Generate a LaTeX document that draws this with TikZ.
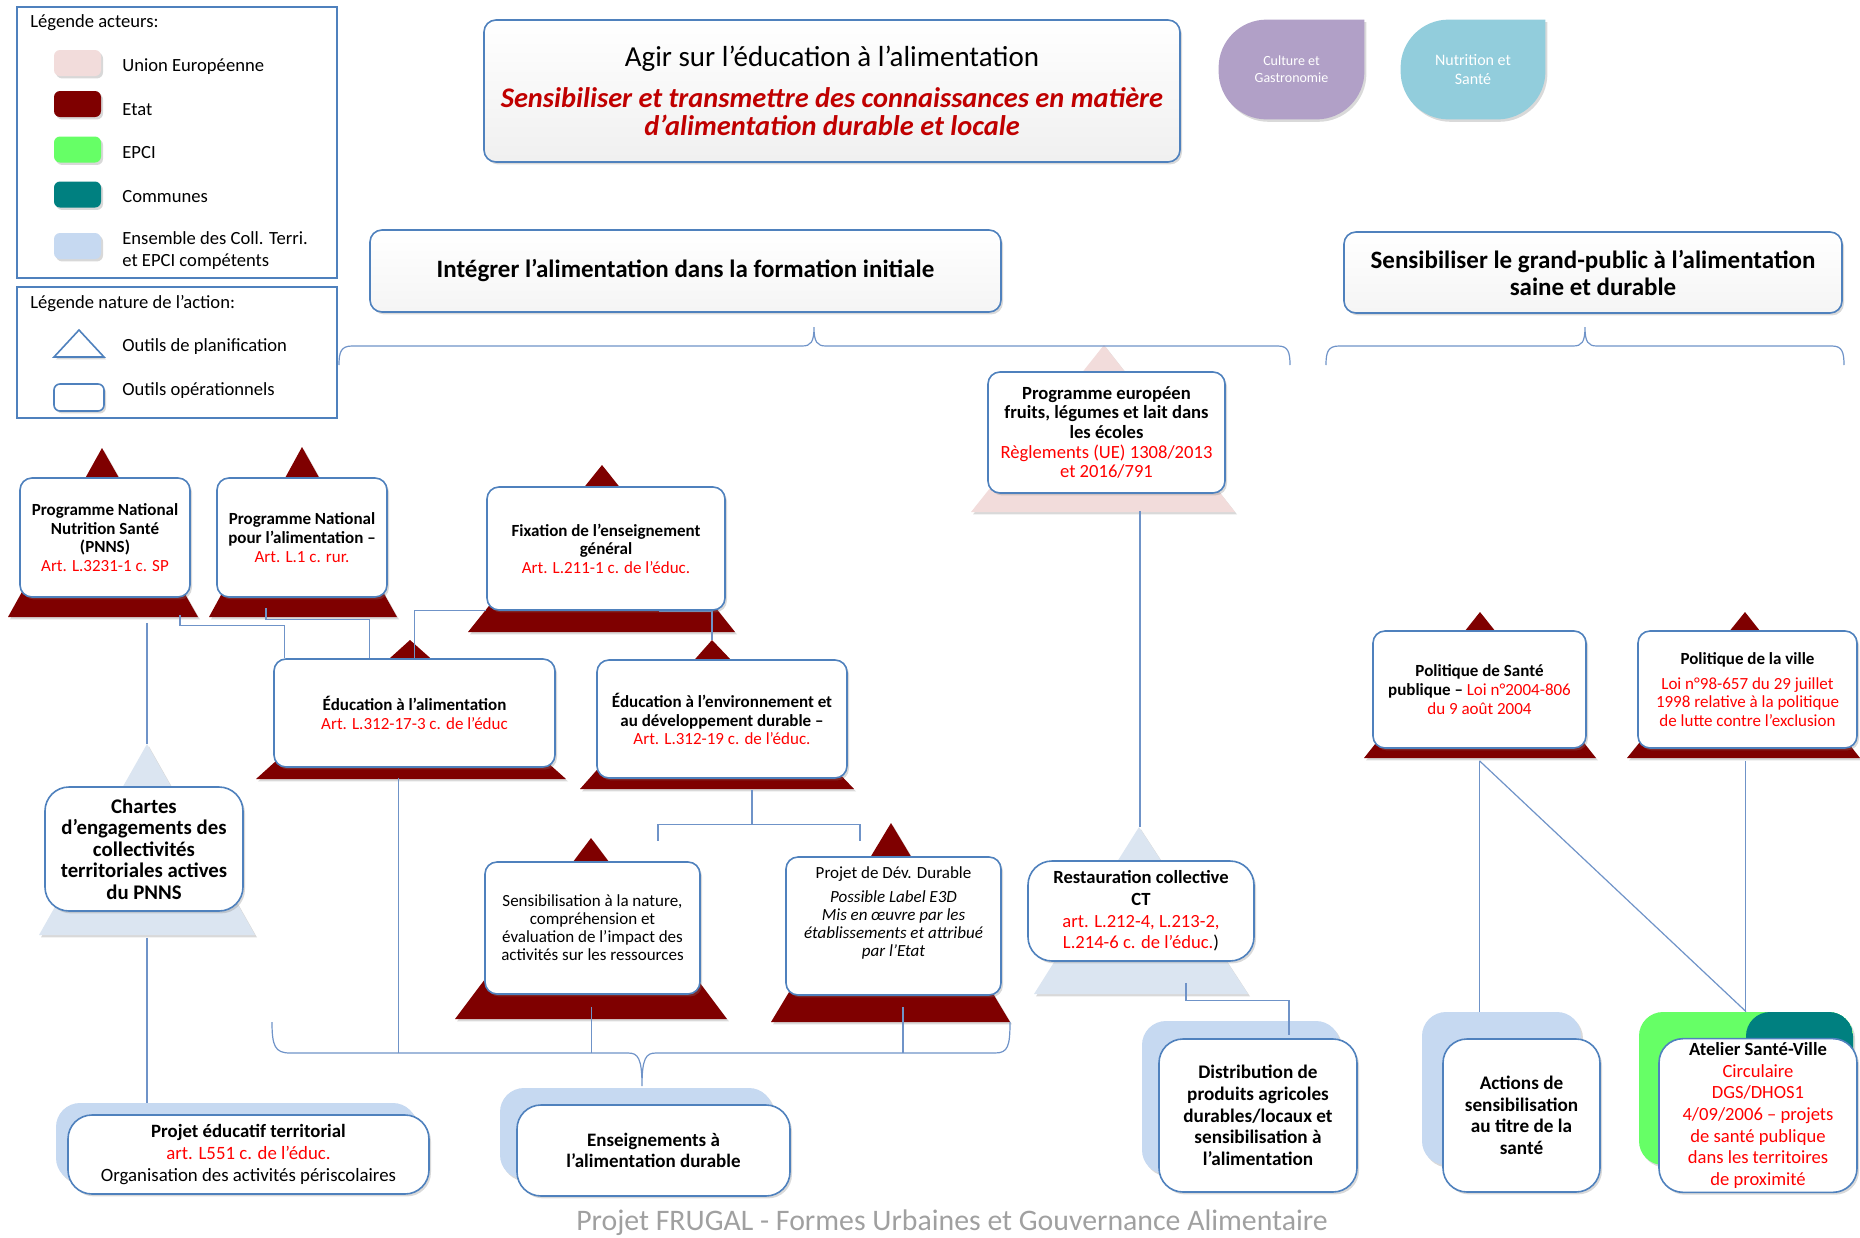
\documentclass[tikz,border=0pt]{standalone}
\usepackage{fontspec}
\setmainfont{Carlito}
\usetikzlibrary{calc,positioning,shadows}
\definecolor{boxblue}{HTML}{4F81BD}
\definecolor{linkblue}{HTML}{6F93C8}
\definecolor{etat}{HTML}{7F0000}
\definecolor{ue}{HTML}{F2DCDB}
\definecolor{epci}{HTML}{66FF66}
\definecolor{communes}{HTML}{008080}
\definecolor{ct}{HTML}{C6D9F1}
\definecolor{ctlight}{HTML}{DBE5F1}
\definecolor{artred}{HTML}{FF0000}
\definecolor{titlered}{HTML}{C00000}
\definecolor{culture}{HTML}{B1A0C7}
\definecolor{nutrition}{HTML}{92CDDC}
\definecolor{footgray}{HTML}{A0A0A0}

\pgfdeclarelayer{back}
\pgfdeclarelayer{links}
\pgfsetlayers{back,links,main}

\newcommand{\art}[1]{{\color{artred}\mdseries #1}}
\newcommand{\tred}[1]{{\fontsize{14.2}{14.3}\selectfont\color{titlered}\bfseries\itshape #1}}

\begin{document}
\begin{tikzpicture}[x=0.5pt, y=-0.5pt,
    softshadow/.style={drop shadow={opacity=0.3, shadow xshift=1pt, shadow yshift=-1.2pt}},
    link/.style={draw=linkblue, line width=0.6pt},
    opbox/.style={draw=boxblue, line width=0.8pt, fill=white, rounded corners=6pt,
        align=center, inner sep=2pt, font=\fontsize{8.5}{9.3}\selectfont\bfseries, softshadow},
    bigbox/.style={opbox, rounded corners=12pt, font=\fontsize{9.5}{10.8}\selectfont\bfseries},
    bkbox/.style={fill=ct, rounded corners=12pt, softshadow},
    legbox/.style={draw=boxblue, line width=1pt, fill=white},
    swatch/.style={rounded corners=3pt, minimum width=23.5pt, minimum height=13pt, softshadow},
    legtext/.style={anchor=west, inner sep=0pt, font=\fontsize{9.3}{11}\selectfont, align=left},
  ]
\useasboundingbox (0,0) rectangle (1860,1238);

% legends
\node[legbox, minimum width=160pt, minimum height=135.5pt] (legacteurs) at (177,142.5) {};
\node[legtext] (legacteurs-t) at (30,23) {Légende acteurs:};
\node[swatch, fill=ue] (sw-ue) at (77.5,63) {};
\node[legtext] (lg-ue) at (122,67) {Union Européenne};
\node[swatch, fill=etat] (sw-etat) at (77.5,104) {};
\node[legtext] (lg-etat) at (122,110) {Etat};
\node[swatch, fill=epci] (sw-epci) at (77.5,149.5) {};
\node[legtext] (lg-epci) at (122,153) {EPCI};
\node[swatch, fill=communes] (sw-com) at (77.5,194.5) {};
\node[legtext] (lg-com) at (122,197) {Communes};
\node[swatch, fill=ct] (sw-ct) at (77.5,246) {};
\node[legtext] (lg-ct) at (122,251) {Ensemble des Coll. Terri.\\ et EPCI compétents};

\node[legbox, minimum width=160pt, minimum height=65.5pt] (legnature) at (177,352.5) {};
\node[legtext] (legnature-t) at (30,304) {Légende nature de l’action:};
\draw[boxblue, line width=0.8pt, fill=white, softshadow] (79,330) -- (104,357) -- (54,357) -- cycle;
\node[legtext] (lg-plan) at (122,347) {Outils de planification};
\node[draw=boxblue, fill=white, line width=0.8pt, rounded corners=3pt, minimum width=25pt,
      minimum height=13.5pt, softshadow] (sw-op) at (79,397.5) {};
\node[legtext] (lg-op) at (122,391) {Outils opérationnels};

% titles
\node[opbox, font=\fontsize{14.5}{14.3}\selectfont, minimum width=348pt, minimum height=71pt,
      top color=white, bottom color=black!6] (title) at (832,91)
  {Agir sur l’éducation à l’alimentation\\[6pt]
   \tred{Sensibiliser et transmettre des connaissances en matière}\\
   \tred{d’alimentation durable et locale}};
\node[font=\fontsize{7}{8.5}\selectfont, text=white, align=center,
      minimum width=72.5pt, minimum height=49.5pt] (culture) at (1291.5,69.5) {Culture et\\ Gastronomie};
\node[font=\fontsize{8}{9.5}\selectfont, text=white, align=center,
      minimum width=72pt, minimum height=49.5pt] (nutrition) at (1473,69.5) {Nutrition et\\ Santé};

\node[opbox, font=\fontsize{12.5}{13.5}\selectfont\bfseries, minimum width=315.5pt, minimum height=41pt,
      top color=white, bottom color=black!4] (integrer) at (685.5,271)
  {Intégrer l’alimentation dans la formation initiale};
\node[opbox, font=\fontsize{12.5}{13.5}\selectfont\bfseries, minimum width=249pt, minimum height=40.5pt,
      top color=white, bottom color=black!4] (grandpublic) at (1593,272.5)
  {Sensibiliser le grand-public à l’alimentation\\ saine et durable};

% planning tools
\node[opbox, minimum width=85pt, minimum height=59.5pt] (pnns) at (105,537.5)
  {Programme National\\ Nutrition Santé\\ (PNNS)\\ \art{Art. L.3231-1 c. SP}};
\node[opbox, minimum width=85pt, minimum height=59.5pt] (pna) at (302,537.5)
  {Programme National\\ pour l’alimentation –\\ \art{Art. L.1 c. rur.}};
\node[opbox, minimum width=119pt, minimum height=61.5pt] (fixation) at (606,548.5)
  {Fixation de l’enseignement\\ général\\ \art{Art. L.211-1 c. de l’éduc.}};
\node[opbox, minimum width=140.5pt, minimum height=54pt] (edualim) at (414.5,713)
  {Éducation à l’alimentation\\ \art{Art. L.312-17-3 c. de l’éduc}};
\node[opbox, minimum width=125pt, minimum height=59pt] (eduenv) at (722,719)
  {Éducation à l’environnement et\\ au développement durable –\\ \art{Art. L.312-19 c. de l’éduc.}};
\node[opbox, font=\fontsize{9.3}{9.8}\selectfont\bfseries, minimum width=118.5pt, minimum height=60.5pt]
  (europe) at (1106.5,432.5)
  {Programme européen\\ fruits, légumes et lait dans\\ les écoles\\
   \art{Règlements (UE) 1308/2013}\\ \art{et 2016/791}};
\node[bigbox, font=\fontsize{10.4}{10.8}\selectfont\bfseries, minimum width=99pt, minimum height=62pt]
  (chartes) at (144,849)
  {Chartes\\ d’engagements des\\ collectivités\\ territoriales actives\\ du PNNS};
\node[opbox, font=\fontsize{8.5}{9}\selectfont, minimum width=107.5pt, minimum height=66pt]
  (nature) at (592.5,928)
  {Sensibilisation à la nature,\\ compréhension et\\ évaluation de l’impact des\\ activités sur les ressources};
\node[opbox, minimum width=107.5pt, minimum height=69pt] (devdur) at (893.5,926) {};
\node[align=center, font=\fontsize{8.5}{9}\selectfont] (devdur-t) at (893.5,913)
  {Projet de Dév. Durable\\[3pt] \itshape Possible Label E3D\\ \itshape Mis en œuvre par les\\
   \itshape établissements et attribué\\ \itshape par l’Etat};
\node[bigbox, font=\fontsize{9.3}{10.8}\selectfont\bfseries, minimum width=113pt, minimum height=50pt]
  (restau) at (1141,911)
  {Restauration collective\\ CT\\ \art{art. L.212-4, L.213-2,}\\ \art{L.214-6 c. de l’éduc.}{\mdseries)}};
\node[opbox, minimum width=106.5pt, minimum height=58.5pt] (santepub) at (1479.5,689.5)
  {Politique de Santé\\ publique – \art{Loi n°2004-806}\\ \art{du 9 août 2004}};
\node[opbox, minimum width=109.5pt, minimum height=58.5pt] (ville) at (1747.5,689.5)
  {Politique de la ville\\[3pt] \art{Loi n°98-657 du 29 juillet}\\ \art{1998 relative à la politique}\\
   \art{de lutte contre l’exclusion}};

% operational tools
\node[bigbox, font=\fontsize{9.4}{11}\selectfont\bfseries, minimum width=180.5pt, minimum height=39.5pt]
  (pedt) at (248.5,1154.5)
  {Projet éducatif territorial\\ \art{art. L551 c. de l’éduc.}\\ {\mdseries Organisation des activités périscolaires}};
\node[bigbox, minimum width=136.5pt, minimum height=45.5pt] (enseign) at (653.5,1150.5)
  {Enseignements à\\ l’alimentation durable};
\node[bigbox, font=\fontsize{9.6}{10.8}\selectfont\bfseries, minimum width=99pt, minimum height=76.5pt]
  (distrib) at (1258,1115.5)
  {Distribution de\\ produits agricoles\\ durables/locaux et\\ sensibilisation à\\ l’alimentation};
\node[bigbox, font=\fontsize{9.6}{10.8}\selectfont\bfseries, minimum width=78.5pt, minimum height=76.5pt]
  (actions) at (1521.5,1115.5)
  {Actions de\\ sensibilisation\\ au titre de la\\ santé};
\node[bigbox, font=\fontsize{9.3}{10.8}\selectfont\bfseries, minimum width=99pt, minimum height=76.5pt]
  (atelier) at (1758,1115.5)
  {Atelier Santé-Ville\\ \art{Circulaire}\\ \art{DGS/DHOS1}\\ \art{4/09/2006 – projets}\\
   \art{de santé publique}\\ \art{dans les territoires}\\ \art{de proximité}};

\node[font=\fontsize{14.9}{16}\selectfont, text=footgray] (footer) at (952,1223)
  {Projet FRUGAL - Formes Urbaines et Gouvernance Alimentaire};

\begin{pgfonlayer}{back}
  % actor triangles
  \fill[etat, softshadow] (102,448) -- (198,617) -- (8,617) -- cycle;
  \fill[etat, softshadow] (302,447) -- (397,617) -- (209,617) -- cycle;
  \fill[etat, softshadow] (602,465) -- (735,632) -- (468,632) -- cycle;
  \fill[etat, softshadow] (410,640) -- (566,779) -- (256,779) -- cycle;
  \fill[etat, softshadow] (712,640) -- (854,789) -- (580,789) -- cycle;
  \fill[ue, softshadow] (1104,345) -- (1235,512) -- (971,512) -- cycle;
  \fill[ctlight, softshadow] (147,744) -- (255,935) -- (39,935) -- cycle;
  \fill[etat, softshadow] (591,838) -- (727,1019) -- (455,1019) -- cycle;
  \fill[etat, softshadow] (891,823) -- (1010,1022) -- (771,1022) -- cycle;
  \fill[ctlight, softshadow] (1139,827) -- (1248,994) -- (1034,994) -- cycle;
  \fill[etat, softshadow] (1480,612) -- (1596,758) -- (1364,758) -- cycle;
  \fill[etat, softshadow] (1745,612) -- (1860,758) -- (1627,758) -- cycle;
  % back boxes of the operational tools
  \node[bkbox, minimum width=180.5pt, minimum height=39.5pt] (pedt-bk) at (236.5,1142.5) {};
  \node[bkbox, minimum width=136.5pt, minimum height=45.5pt] (enseign-bk) at (636.5,1133.5) {};
  \node[bkbox, minimum width=99pt, minimum height=76.5pt] (distrib-bk) at (1241,1097.5) {};
  \node[bkbox, minimum width=79.5pt, minimum height=76.5pt] (actions-bk) at (1501.5,1088.5) {};
  \node[bkbox, fill=epci, minimum width=107pt, minimum height=76.5pt,
        path picture={\fill[communes] (path picture bounding box.north)
                       rectangle (path picture bounding box.south east);}] (atelier-bk) at (1746,1088.5) {};
  % drops
  \fill[culture, softshadow] (culture.north east) [rounded corners=24pt] -- (culture.south east)
     -- (culture.south west) -- (culture.north west) [sharp corners] -- cycle;
  \fill[nutrition, softshadow] (nutrition.north east) [rounded corners=24pt] -- (nutrition.south east)
     -- (nutrition.south west) -- (nutrition.north west) [sharp corners] -- cycle;
\end{pgfonlayer}

\coordinate (chartes-tip) at (147,744);
\coordinate (eduenv-tip) at (712,640);
\coordinate (restau-tip) at (1140,827);
\coordinate (ens-bar) at (642,1053);

\begin{pgfonlayer}{links}
  % braces
  \draw[link] (339,365) .. controls (339,352) and (341,346) .. (352,346) -- (802,346)
     .. controls (811,346) and (814,342) .. (814,327) .. controls (814,342) and (817,346) .. (826,346)
     -- (1278,346) .. controls (1288,346) and (1290,352) .. (1290,365);
  \draw[link] (1326,365) .. controls (1326,352) and (1328,346) .. (1339,346) -- (1573,346)
     .. controls (1582,346) and (1585,342) .. (1585,327) .. controls (1585,342) and (1588,346) .. (1597,346)
     -- (1832,346) .. controls (1842,346) and (1844,352) .. (1844,365);
  \draw[link] (272,1022) .. controls (272,1046) and (275,1053) .. (290,1053) -- (628,1053)
     .. controls (638,1053) and (642,1058) .. (642,1086) .. controls (642,1058) and (646,1053) .. (656,1053)
     -- (995,1053) .. controls (1008,1053) and (1010,1046) .. (1010,1022);
  % formation initiale
  \draw[link] ($(pnns.south)+(42,25)$) -- (chartes-tip);
  \draw[link] ($(chartes.south)+(3,26)$) coordinate (c1) -- (c1 |- pedt-bk.north);
  \draw[link] ($(pnns.south)+(75,17)$) -- ++(0,11) -| ($(edualim.north west)+(11,0)$);
  \draw[link] ($(pna.south)+(-36,10)$) -- ++(0,12) -| ($(edualim.north west)+(96,0)$);
  \draw[link] (fixation.south west) -| (edualim.north);
  \draw[link] ($(fixation.south)+(53,1)$) -| (eduenv-tip);
  \draw[link] ($(edualim.south)+(-16,10)$) coordinate (c2) -- (c2 |- ens-bar);
  \draw[link] ($(eduenv.south)+(30,11)$) -- ++(0,35) coordinate (env-split);
  \draw[link] ($(env-split)+(-94,16)$) |- ($(env-split)+(108,0)$) -- ++(0,16);
  \draw[link] ($(nature.south)+(-1,12)$) coordinate (c3) -- (c3 |- ens-bar);
  \draw[link] ($(devdur.south)+(9.5,11)$) coordinate (c4) -- (c4 |- ens-bar);
  \draw[link] ($(europe.south -| restau-tip)+(0,17)$) -- (restau-tip);
  \draw[link] ($(restau.south)+(45,21)$) -- ++(0,18) -| ($(distrib-bk.north)+(48,14)$);
  % grand public
  \draw[link] ($(santepub.south)+(0,12)$) coordinate (c5) -- (c5 |- actions-bk.north);
  \draw[link] (c5) -- (atelier-bk.north);
  \draw[link] ($(ville.south)+(-2,12)$) coordinate (c6) -- (c6 |- atelier-bk.north);
\end{pgfonlayer}
\end{tikzpicture}
\end{document}
